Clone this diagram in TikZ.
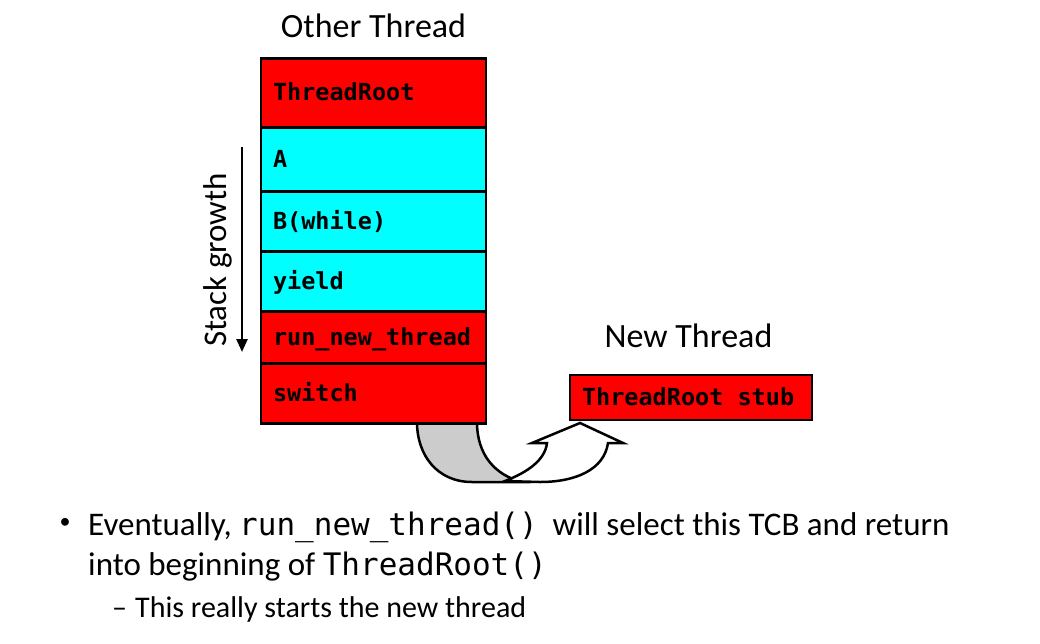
\documentclass[tikz,border=0pt]{standalone}
\usepackage{fontspec}
\setmainfont{Carlito}
\newfontfamily\codefont{DejaVu Sans Mono}
\usetikzlibrary{arrows.meta}
\definecolor{backgray}{HTML}{CCCCCC}
\definecolor{framered}{HTML}{FF0000}
\definecolor{framecyan}{HTML}{00FFFF}

\begin{document}
\begin{tikzpicture}[x=1pt,y=-1pt,
  frame/.style={draw=black,line width=2.5pt,rectangle,minimum width=225pt,
    text width=201pt,inner xsep=12pt,align=left,text height=17pt,text depth=1pt,
    font=\codefont\bfseries\fontsize{23.5}{26}\selectfont},
  redframe/.style={frame,fill=framered},
  cyanframe/.style={frame,fill=framecyan},
  title/.style={inner sep=0pt,font=\fontsize{34}{40}\selectfont},
  body/.style={inner sep=0pt,font=\fontsize{33}{38}\selectfont},
  uturn/.style={draw=black,line width=2.5pt,line join=miter}]
\useasboundingbox (0,0) rectangle (1040,643);

% curved arrow from the stack to the new thread
\draw[uturn,fill=backgray] (417,422) -- (477,422)
  .. controls (477,455) and (495,475) .. (522,482)
  -- (472,482) .. controls (437,482) and (417,455) .. (417,422);
\draw[uturn,fill=white] (505,481)
  .. controls (528,472) and (545,460) .. (547,443)
  -- (532,443) -- (580,423) -- (623,443) -- (608,443)
  .. controls (604,470) and (575,482) .. (540,482) -- cycle;

% the stack of the other thread
\node[title,anchor=base] (other) at (373.5,37) {Other Thread};
\node[redframe,anchor=north,minimum height=69pt] (root) at (373.5,57) {ThreadRoot};
\node[cyanframe,anchor=north,minimum height=64pt] (a) at (373.5,126) {A};
\node[cyanframe,anchor=north,minimum height=60pt] (b) at (373.5,190) {B(while)};
\node[cyanframe,anchor=north,minimum height=60pt] (yield) at (373.5,250) {yield};
\node[redframe,anchor=north,minimum height=52pt] (run) at (373.5,310) {run\_new\_thread};
\node[redframe,anchor=north,minimum height=60pt] (switch) at (373.5,362) {switch};

\coordinate (growtop) at (242,147);
\coordinate (growend) at (242,352);
\draw[line width=2.5pt,-{Triangle[width=11pt,length=13pt]}] (growtop) -- (growend);
\node[rotate=90,font=\fontsize{33}{38}\selectfont] (growth) at (218,260) {Stack growth};

% the new thread
\node[title,anchor=base] (newthr) at (688.5,347) {New Thread};
\node[redframe,minimum width=242pt,text width=218pt,minimum height=45pt] (stub) at (691,397.5) {ThreadRoot\hspace{0.6em}stub};

% bullets
\node[body] (dot) at (65,523) {\fontsize{22}{24}\selectfont•};
\node[body,anchor=base west] (line1) at (88,535)
  {Eventually, {\codefont\fontsize{31}{36}\selectfont run\_new\_thread()}\ \ will select this TCB and return};
\node[body,anchor=base west] (line2) at (88,575)
  {into beginning of {\codefont\fontsize{31}{36}\selectfont ThreadRoot()}};
\node[body,anchor=base west,font=\fontsize{30}{36}\selectfont] (dash) at (112,617) {–};
\node[body,anchor=base west,font=\fontsize{30}{36}\selectfont] (subline) at (135,617) {This really starts the new thread};
\end{tikzpicture}
\end{document}
